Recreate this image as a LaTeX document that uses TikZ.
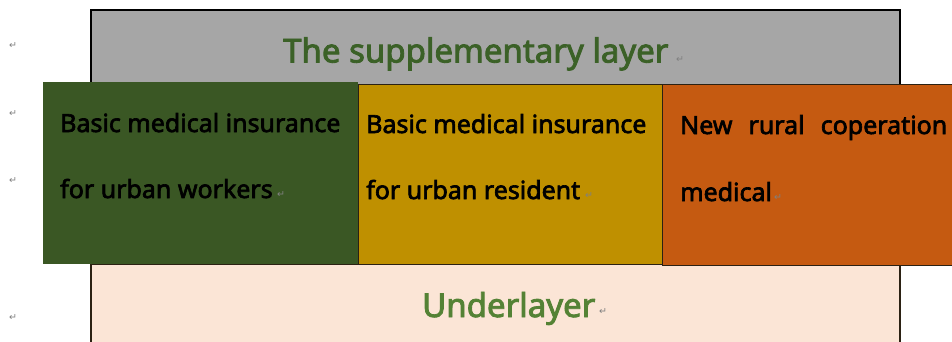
\documentclass[tikz,border=0pt]{standalone}
\usepackage{fontspec}
\newfontfamily\labelfont{Noto Sans}[BoldFont={Noto Sans},BoldFeatures={FakeBold=2.6}]
\newfontfamily\markfont{DejaVu Sans}
\definecolor{layergray}{HTML}{A6A6A6}
\definecolor{workergreen}{HTML}{3A5724}
\definecolor{residentgold}{HTML}{BF9000}
\definecolor{ruralorange}{HTML}{C55A11}
\definecolor{basepeach}{HTML}{FBE5D6}
\definecolor{headgreen}{HTML}{3B6127}
\definecolor{basegreen}{HTML}{548235}
\definecolor{edgedark}{HTML}{2B2113}
\definecolor{markgray}{HTML}{808080}
\begin{document}
\begin{tikzpicture}[x=1pt,y=-1pt,
  panel/.style={anchor=north west,inner sep=0pt,outer sep=0pt},
  boxtext/.style={anchor=base west,inner sep=0pt,
    font=\labelfont\bfseries\fontsize{25}{25}\selectfont,text=black},
  headtext/.style={anchor=base west,inner sep=0pt,
    font=\labelfont\bfseries\fontsize{33}{33}\selectfont},
  parmark/.style={inner sep=0pt,text=markgray,
    font=\markfont\fontsize{9.5}{9.5}\selectfont}]
\useasboundingbox (0,0) rectangle (952,341);
\fill[white] (0,0) rectangle (952,341);

% upper layer
\node[panel,fill=layergray,draw=black,line width=1.6pt,
  minimum width=809pt,minimum height=76pt] (supp) at (91,10) {};
% lower layer
\node[panel,fill=basepeach,draw=edgedark,line width=1.4pt,
  minimum width=809pt,minimum height=90pt] (under) at (91,264) {};
% the three basic schemes
\node[panel,fill=workergreen,minimum width=315pt,minimum height=182pt]
  (workers) at (43,82) {};
\node[panel,fill=residentgold,draw=edgedark,line width=0.8pt,
  minimum width=304pt,minimum height=180pt] (resident) at (358,84) {};
\node[panel,fill=ruralorange,draw=edgedark,line width=0.8pt,
  minimum width=300pt,minimum height=181pt] (rural) at (662,84) {};

% labels
\node[headtext,text=headgreen] (supptxt) at (283,62.5) {The supplementary layer};
\node[headtext,text=basegreen] (undertxt) at (422,317) {Underlayer};

\node[boxtext] (wa) at (60,132) {Basic medical insurance};
\node[boxtext] (wb) at (60,198) {for urban workers};
\node[boxtext] (ra) at (366,133) {Basic medical insurance};
\node[boxtext] (rb) at (366,199) {for urban resident};
\node[boxtext] (na) at (680,134) {\makebox[267pt][s]{New\hfill rural\hfill coperation}};
\node[boxtext] (nb) at (680,201) {medical};

% paragraph marks
\node[parmark] (m1) at (13,46) {↵};
\node[parmark] (m2) at (13,114) {↵};
\node[parmark] (m3) at (13,181) {↵};
\node[parmark] (m4) at (13,318) {↵};
\node[parmark] (m5) at (680,60) {↵};
\node[parmark] (m6) at (281,195) {↵};
\node[parmark] (m7) at (589,196) {↵};
\node[parmark] (m8) at (778,198) {↵};
\node[parmark] (m9) at (603,312) {↵};
\end{tikzpicture}
\end{document}
